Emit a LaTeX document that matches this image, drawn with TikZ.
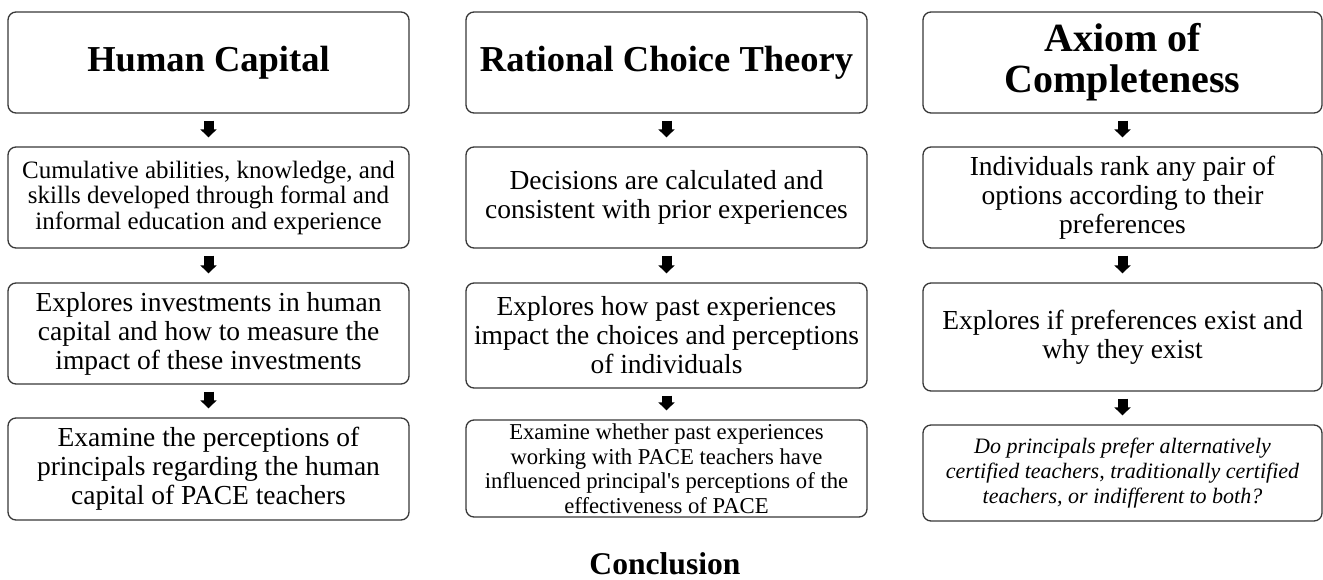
\documentclass[tikz,border=0pt]{standalone}
\usepackage{fontspec}
\setmainfont{Liberation Serif}
\usetikzlibrary{arrows.meta}
\tikzset{
  box/.style={draw=black!78, line width=1.3pt, rounded corners=8pt, align=center, inner sep=2pt, fill=white},
  titletext/.style={font=\fontsize{36.5}{42}\selectfont\bfseries},
  bodytext/.style={font=\fontsize{27.5}{29}\selectfont},
  smalltext/.style={font=\fontsize{22.7}{24.5}\selectfont},
  fatarrow/.style={line width=10pt, draw=black, -{Triangle[length=8pt,width=16pt]}, shorten <=7pt, shorten >=9pt}
}
\begin{document}
\begin{tikzpicture}[x=1pt,y=-1pt]
\useasboundingbox (0,0) rectangle (1323,579);
% column 1
\node[box, titletext, minimum width=401pt, minimum height=101pt] (a1) at (208.5,62.5) {Human Capital};
\node[box, font=\fontsize{25}{25.5}\selectfont, minimum width=401pt, minimum height=101pt] (a2) at (208.5,197.5) {Cumulative abilities, knowledge, and\\skills developed through formal and\\informal education and experience};
\node[box, bodytext, minimum width=401pt, minimum height=101pt] (a3) at (208.5,333.5) {Explores investments in human\\capital and how to measure the\\impact of these investments};
\node[box, bodytext, minimum width=401pt, minimum height=102pt] (a4) at (208.5,469) {Examine the perceptions of\\principals regarding the human\\capital of PACE teachers};
% column 2
\node[box, titletext, minimum width=401pt, minimum height=101pt] (b1) at (666.5,62.5) {Rational Choice Theory};
\node[box, bodytext, minimum width=401pt, minimum height=101pt] (b2) at (666.5,197.5) {Decisions are calculated and\\consistent with prior experiences};
\node[box, bodytext, minimum width=401pt, minimum height=105pt] (b3) at (666.5,335.5) {Explores how past experiences\\impact the choices and perceptions\\of individuals};
\node[box, smalltext, minimum width=401pt, minimum height=97pt] (b4) at (666.5,468.5) {Examine whether past experiences\\working with PACE teachers have\\influenced principal\textquotesingle s perceptions of the\\effectiveness of PACE};
% column 3
\node[box, font=\fontsize{40}{41}\selectfont\bfseries, minimum width=399pt, minimum height=101pt] (c1) at (1122.5,62.5) {Axiom of\\Completeness};
\node[box, bodytext, minimum width=399pt, minimum height=101pt] (c2) at (1122.5,197.5) {Individuals rank any pair of\\options according to their\\preferences};
\node[box, bodytext, minimum width=399pt, minimum height=108pt] (c3) at (1122.5,337) {Explores if preferences exist and\\why they exist};
\node[box, font=\fontsize{22}{25}\selectfont\itshape, minimum width=399pt, minimum height=96pt] (c4) at (1122.5,473) {Do principals prefer alternatively\\certified teachers, traditionally certified\\teachers, or indifferent to both?};
% arrows
\draw[fatarrow] (a1) -- (a2);
\draw[fatarrow] (a2) -- (a3);
\draw[fatarrow] (a3) -- (a4);
\draw[fatarrow] (b1) -- (b2);
\draw[fatarrow] (b2) -- (b3);
\draw[fatarrow] (b3) -- (b4);
\draw[fatarrow] (c1) -- (c2);
\draw[fatarrow] (c2) -- (c3);
\draw[fatarrow] (c3) -- (c4);
% conclusion
\node[font=\fontsize{31.6}{34}\selectfont\bfseries, anchor=base, inner sep=0pt] (concl) at (665,574) {Conclusion};
\end{tikzpicture}
\end{document}
